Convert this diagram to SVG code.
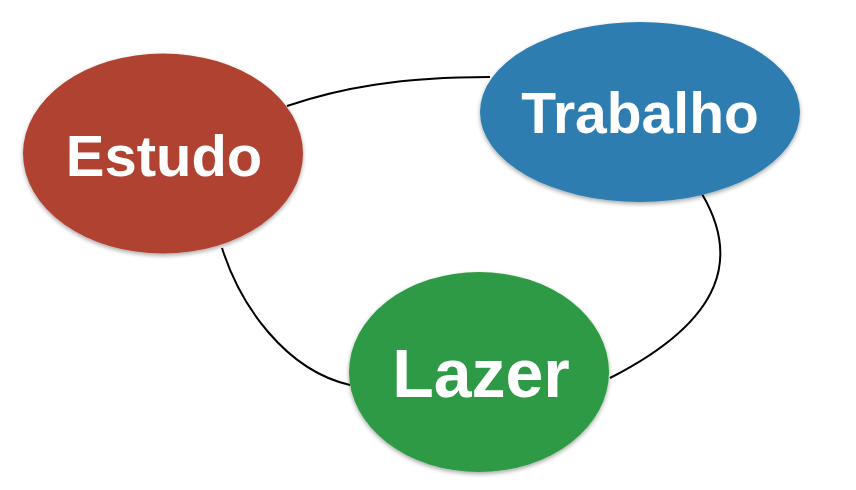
<svg xmlns="http://www.w3.org/2000/svg" width="856" height="490" viewBox="0 0 856 490">
<defs>
<filter id="sh" x="-10%" y="-10%" width="120%" height="125%">
<feDropShadow dx="0" dy="2" stdDeviation="2" flood-color="#000" flood-opacity="0.35"/>
</filter>
</defs>
<style>
.edge{fill:none;stroke:#000;stroke-width:2}
.node{filter:url(#sh)}
.lbl{font-family:"Liberation Sans",Arial,sans-serif;font-weight:bold;fill:#fff;text-anchor:middle}
</style>
<rect width="856" height="490" fill="#fff"/>
<g id="connectors">
<path class="edge" d="M287,106 C340,88 400,77 490,77"/>
<path class="edge" d="M702,194 C738,255 728,318 610,378"/>
<path class="edge" d="M222,248 C240,305 285,370 350,385"/>
</g>
<g id="estudo">
<ellipse class="node" cx="163" cy="153.5" rx="140" ry="100" fill="#b04232"/>
<text class="lbl" x="164" y="176" font-size="58">Estudo</text>
</g>
<g id="trabalho">
<ellipse class="node" cx="640" cy="112" rx="160" ry="90" fill="#2f7db0"/>
<text class="lbl" x="640" y="133" font-size="57">Trabalho</text>
</g>
<g id="lazer">
<ellipse class="node" cx="479" cy="372" rx="130" ry="100" fill="#2f9a44"/>
<text class="lbl" x="481" y="397" font-size="68">Lazer</text>
</g>
</svg>
